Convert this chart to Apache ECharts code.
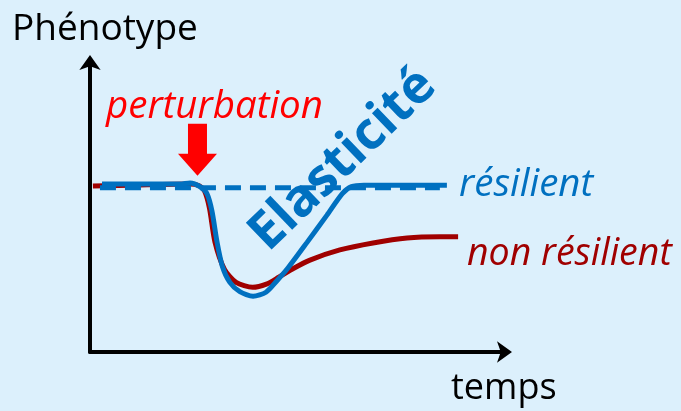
<!DOCTYPE html>
<html>
<head>
<meta charset="utf-8">
<script src="https://cdn.jsdelivr.net/npm/echarts@6/dist/echarts.min.js"></script>
<style>
  html, body { margin: 0; padding: 0; background: #dcf0fc; }
  #chart { width: 681px; height: 411px; }
</style>
</head>
<body>
<div id="chart"></div>
<script>
// temps / phénotype, unités arbitraires (0-100)
const resilientX = [2.9, 12, 21.7, 24.1, 26.5, 28.2, 29.4, 30.6, 31.9, 33.7, 36.1, 39.3, 42.4, 45, 47.5, 52.3, 57.1, 60.8, 63, 66, 86]
const resilientY = [57.9, 57.9, 57.9, 58.3, 57, 54.5, 48.5, 38, 29.5, 24, 20.8, 19.2, 20.6, 24.5, 28.6, 37.8, 47.2, 54.6, 57, 57.5, 57.5]

const nonResilientX = [0.7, 12, 24.1, 26.3, 27.6, 28.8, 30.1, 32.4, 35.2, 39.2, 42.5, 45.5, 49, 53, 60.2, 68.2, 76.4, 84.3, 88.7]
const nonResilientY = [57.2, 57.6, 57.9, 57.3, 55.5, 49.5, 38, 28.5, 24, 22.3, 23.4, 25.8, 28.8, 31.7, 35.2, 37.6, 39.3, 39.7, 39.7]

const baselineX = [2.4, 84.3]
const baselineLevel = 56.6

const perturbationTime = 25.9
const arrowLevel = 69.7

const zip = (xs, ys) => xs.map((x, i) => [x, ys[i]])

const chart = echarts.init(document.getElementById('chart'))

const font = '"Open Sans", "Noto Sans", sans-serif'

const options = {
  backgroundColor: '#dcf0fc',
  animation: false,
  grid: {
    left: 90,
    top: 62,
    width: 415,
    height: 290,
    containLabel: false,
  },
  xAxis: {
    type: 'value',
    min: 0,
    max: 100,
    axisLine: {
      show: true,
      symbol: ['none', 'arrow'],
      symbolSize: [16, 15],
      symbolOffset: [0, 7],
      lineStyle: { color: '#000', width: 4 },
    },
    axisTick: { show: false },
    axisLabel: { show: false },
    splitLine: { show: false },
  },
  yAxis: {
    type: 'value',
    min: 0,
    max: 100,
    axisLine: {
      show: true,
      symbol: ['none', 'arrow'],
      symbolSize: [16, 15],
      symbolOffset: [0, 7],
      lineStyle: { color: '#000', width: 4 },
    },
    axisTick: { show: false },
    axisLabel: { show: false },
    splitLine: { show: false },
  },
  series: [
    {
      name: 'non résilient',
      type: 'line',
      symbol: 'none',
      smooth: 0.25,
      data: zip(nonResilientX, nonResilientY),
      lineStyle: { color: '#a00000', width: 5 },
    },
    {
      name: 'référence',
      type: 'line',
      symbol: 'none',
      data: baselineX.map(x => [x, baselineLevel]),
      lineStyle: { color: '#0070c0', width: 5, type: [16, 9] },
    },
    {
      name: 'résilient',
      type: 'line',
      symbol: 'none',
      smooth: 0.25,
      data: zip(resilientX, resilientY),
      lineStyle: { color: '#0070c0', width: 5 },
      markPoint: {
        silent: true,
        label: { show: false },
        data: [{
          coord: [perturbationTime, arrowLevel],
          symbol: 'path://M10,0 L29,0 L29,30 L39,30 L19.5,52 L0,30 L10,30 Z',
          symbolSize: [39, 52],
          itemStyle: { color: '#ff0000' },
        }],
      },
    },
  ],
  graphic: [
    { type: 'text', left: 12, top: 11, style: { text: 'Phénotype', fill: '#000', font: '37px ' + font } },
    { type: 'text', left: 451, top: 371, style: { text: 'temps', fill: '#000', font: '36px ' + font } },
    { type: 'text', left: 106, top: 88, style: { text: 'perturbation', fill: '#ff0000', font: 'italic 38.5px ' + font } },
    { type: 'text', left: 459, top: 166, style: { text: 'résilient', fill: '#0070c0', font: 'italic 38.5px ' + font } },
    { type: 'text', left: 467, top: 235, style: { text: 'non résilient', fill: '#a00000', font: 'italic 37.5px ' + font } },
    {
      type: 'text',
      x: 343,
      y: 160,
      rotation: 44 * Math.PI / 180,
      style: {
        text: 'Elasticité',
        fill: '#0070c0',
        font: 'bold 52px ' + font,
        align: 'center',
        verticalAlign: 'middle',
      },
    },
  ],
}

chart.setOption(options, true)
</script>
</body>
</html>
